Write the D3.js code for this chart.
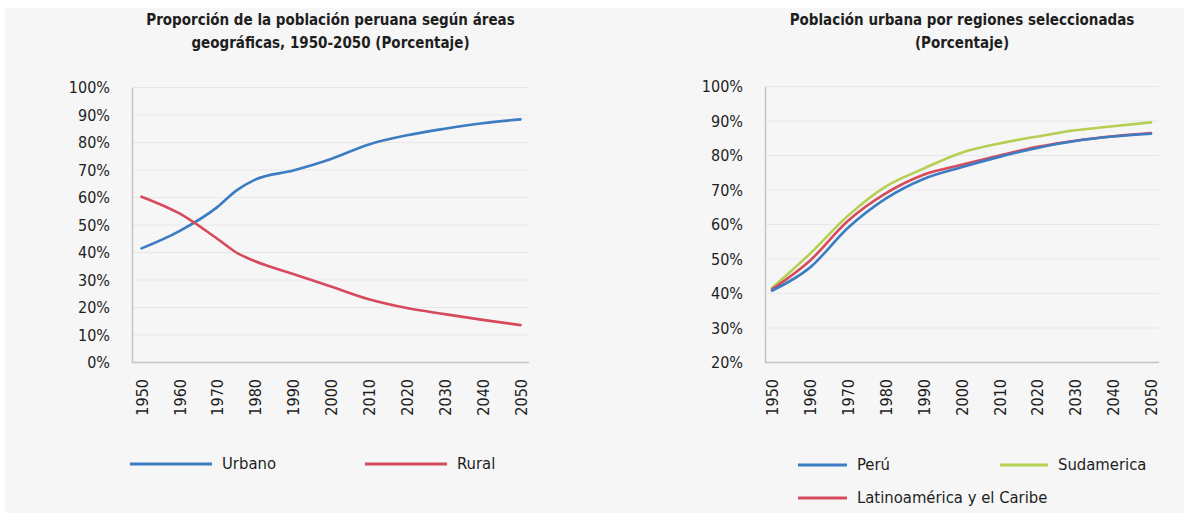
<!DOCTYPE html>
<html><head><meta charset="utf-8">
<script src="https://cdn.jsdelivr.net/npm/d3@7/dist/d3.min.js"></script>
<style>
body{margin:0;background:#fff}
svg{display:block}
text{font-family:"Liberation Sans Narrow","DejaVu Sans Condensed","Roboto",sans-serif;fill:#1e1e1e}
</style>
</head><body>
<svg id="c" width="1184" height="513"></svg>
<script>
// ---- data ----
const yearsL = [1950,1960,1970,1975,1980,1990,2000,2010,2020,2030,2040,2050];
const urbano = [41.5,47.8,56.5,62.5,66.5,69.8,74.0,79.3,82.6,85.0,87.0,88.4];
const rural  = [60.3,54.2,45.0,40.0,36.8,32.2,27.6,23.0,19.8,17.6,15.5,13.6];

const yearsR = [1950,1960,1970,1980,1990,2000,2010,2020,2030,2040,2050];
const peru       = [40.8,47.5,59.0,67.5,73.2,76.6,79.6,82.2,84.2,85.5,86.3];
const latam      = [41.2,49.5,61.0,69.0,74.4,77.3,80.0,82.5,84.3,85.6,86.5];
const sudamerica = [41.6,51.5,62.5,71.0,76.2,80.8,83.5,85.5,87.3,88.5,89.6];

const tickYears  = [1950,1960,1970,1980,1990,2000,2010,2020,2030,2040,2050];
const ticksLeft  = [0,10,20,30,40,50,60,70,80,90,100];
const ticksRight = [20,30,40,50,60,70,80,90,100];

const titleLeft  = ["Proporción de la población peruana según áreas","geográficas, 1950-2050 (Porcentaje)"];
const titleRight = ["Población urbana por regiones seleccionadas","(Porcentaje)"];

const C_BLUE="#3b7cc3", C_RED="#d64a5c", C_GREEN="#b4cf52";

// ---- drawing ----
const svg = d3.select("#c");
svg.append("rect").attr("x",5).attr("y",8).attr("width",1179).attr("height",505).attr("fill","#f6f6f6");

function panel(cfg){
  const g = svg.append("g");
  const x = d3.scaleLinear().domain([1950,2050]).range(cfg.xr);
  const y = d3.scaleLinear().domain(cfg.yd).range([362.5,cfg.yTop]);
  // grid
  g.append("g").selectAll("line").data(cfg.ticks).join("line")
    .attr("x1",cfg.ax0).attr("x2",cfg.ax1)
    .attr("y1",d=>y(d)).attr("y2",d=>y(d))
    .attr("stroke",d=>d===cfg.yd[0]?"#c4c4c4":"#e7e7e7").attr("stroke-width",d=>d===cfg.yd[0]?1.5:1.2);
  // y axis
  const ya = g.append("g").attr("transform",`translate(${cfg.ax0},0)`)
    .call(d3.axisLeft(y).tickValues(cfg.ticks).tickFormat(d=>d+"%").tickSize(0).tickPadding(22));
  ya.select(".domain").attr("stroke","#c4c4c4").attr("stroke-width",1.5);
  ya.selectAll("text").style("font-size","16px").attr("fill","#1e1e1e");
  // x axis
  const xa = g.append("g").attr("transform","translate(0,379)")
    .call(d3.axisBottom(x).tickValues(tickYears).tickFormat(d3.format("d")).tickSize(0));
  xa.select(".domain").remove();
  xa.selectAll("text").style("font-size","16px").attr("fill","#1e1e1e")
    .attr("transform","rotate(-90)").attr("text-anchor","end")
    .attr("x",0).attr("y",0).attr("dy","0.35em").attr("dx","0");
  // lines
  const line = (ys)=> d3.line().x((d,i)=>x(cfg.years[i])).y(d=>y(d)).curve(d3.curveMonotoneX)(ys);
  cfg.series.forEach(s=>{
    g.append("path").attr("d",line(s.values)).attr("fill","none")
      .attr("stroke",s.color).attr("stroke-width",2.6).attr("stroke-linecap","round");
  });
  // title
  const cx = (cfg.ax0+cfg.ax1)/2;
  g.selectAll(".t").data(cfg.title).join("text")
    .attr("x",cx).attr("y",(d,i)=>20+i*23).attr("text-anchor","middle")
    .attr("dominant-baseline","middle").style("font-size","15px").style("font-weight","bold").text(d=>d);
  // legend
  cfg.legend.forEach(l=>{
    g.append("line").attr("x1",l.x).attr("x2",l.x+l.w).attr("y1",l.y).attr("y2",l.y)
      .attr("stroke",l.color).attr("stroke-width",3);
    g.append("text").attr("x",l.x+l.w+10).attr("y",l.y).attr("dominant-baseline","middle")
      .style("font-size","16.5px").text(l.name);
  });
}

panel({
  xr:[141.5,520.5], yd:[0,100], yTop:87.5, ax0:132, ax1:529, ticks:ticksLeft, years:yearsL,
  series:[{values:urbano,color:C_BLUE},{values:rural,color:C_RED}],
  title:titleLeft,
  legend:[{name:"Urbano",color:C_BLUE,x:130,w:82,y:464},{name:"Rural",color:C_RED,x:365,w:82,y:464}]
});
panel({
  xr:[772,1151], yd:[20,100], yTop:86.5, ax0:765, ax1:1159, ticks:ticksRight, years:yearsR,
  series:[{values:sudamerica,color:C_GREEN},{values:latam,color:C_RED},{values:peru,color:C_BLUE}],
  title:titleRight,
  legend:[{name:"Perú",color:C_BLUE,x:798,w:49,y:465},{name:"Sudamerica",color:C_GREEN,x:1000,w:48,y:465},
          {name:"Latinoamérica y el Caribe",color:C_RED,x:798,w:49,y:498}]
});
</script>
</body></html>
